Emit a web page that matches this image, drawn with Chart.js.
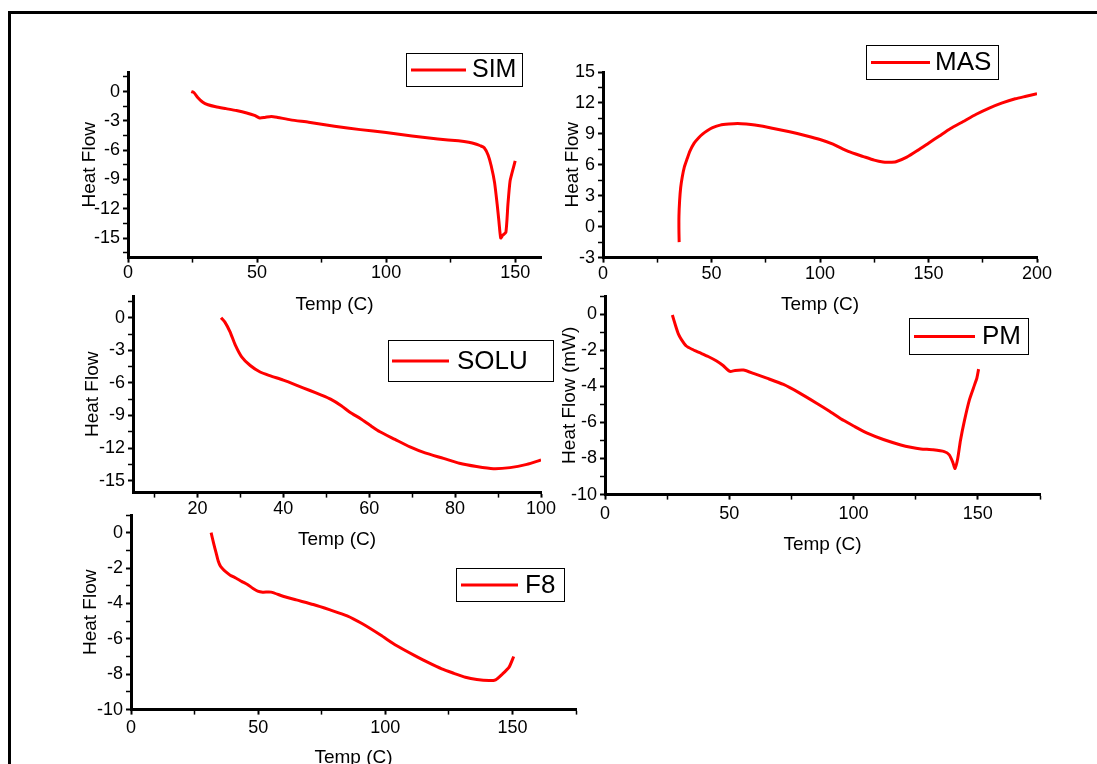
<!DOCTYPE html>
<html>
<head>
<meta charset="utf-8">
<script src="https://cdn.jsdelivr.net/npm/chart.js@4.4.0/dist/chart.umd.min.js"></script>
<style>
  html, body { margin: 0; padding: 0; background: #fff; }
  body { position: relative; width: 1097px; height: 764px; overflow: hidden; }
  #frame { position: absolute; left: 8px; top: 11px; width: 1200px; height: 900px; border: 3px solid #000; box-sizing: border-box; }
  canvas { position: absolute; }
</style>
</head>
<body>
<div id="frame"></div>
<canvas id="sim"></canvas>
<canvas id="mas"></canvas>
<canvas id="solu"></canvas>
<canvas id="pm"></canvas>
<canvas id="f8"></canvas>
<script>
// Données (Temp en C, Heat Flow)
const simTemp = [24.5, 25.5, 27, 29, 31, 34, 38, 42, 46, 49, 51, 53, 55.5, 58, 63, 70, 80, 90, 100, 110, 120, 128, 132, 135, 136.5, 138, 139.5, 140.7, 142, 143, 143.7, 144.4, 145.2, 146.4, 147.2, 148, 149, 150];
const simHeat = [0, -0.1, -0.6, -1.1, -1.35, -1.55, -1.75, -1.95, -2.2, -2.45, -2.7, -2.65, -2.55, -2.65, -2.9, -3.15, -3.55, -3.9, -4.2, -4.55, -4.85, -5.05, -5.2, -5.4, -5.55, -5.75, -6.5, -7.6, -9.3, -11.5, -13.3, -15.0, -14.7, -14.4, -11.5, -9.2, -8.1, -7.1];

const masTemp = [35.1, 35.0, 35.0, 35.3, 35.8, 36.5, 37.5, 38.8, 40, 42, 44, 46, 48, 50.5, 54, 58, 62, 66, 70, 78, 86, 94, 100, 106, 113, 120, 125, 129, 132, 135, 140, 145, 150, 155, 160, 166, 172, 178, 184, 190, 195, 200];
const masHeat = [-1.5, -0.5, 1.0, 2.5, 3.8, 4.8, 5.8, 6.6, 7.3, 8.1, 8.6, 9.0, 9.3, 9.6, 9.85, 9.95, 10.0, 9.95, 9.85, 9.55, 9.2, 8.8, 8.45, 8.0, 7.3, 6.8, 6.45, 6.27, 6.25, 6.3, 6.75, 7.4, 8.1, 8.8, 9.5, 10.2, 10.9, 11.5, 12.0, 12.4, 12.65, 12.9];

const soluTemp = [25.5, 26.4, 27.6, 28.8, 30.3, 32.3, 34.6, 37, 40, 43, 46.2, 49, 51, 53.5, 55.5, 58, 60.2, 62.5, 66, 69.5, 73, 77.3, 81, 85, 88.9, 92.8, 96.7, 100];
const soluHeat = [0, -0.4, -1.3, -2.5, -3.6, -4.4, -5.0, -5.35, -5.75, -6.2, -6.7, -7.15, -7.5, -8.1, -8.7, -9.3, -9.9, -10.5, -11.2, -11.9, -12.45, -12.95, -13.4, -13.7, -13.9, -13.8, -13.5, -13.1];

const pmTemp = [27.1, 28.4, 29.5, 30.7, 32.7, 35, 38.1, 41.5, 44.9, 47.5, 50.3, 52.3, 55.7, 60, 65.1, 71.8, 78, 85.3, 90, 96.1, 100, 105.5, 112, 119, 123, 127.1, 132, 136.5, 138.5, 139.9, 140.8, 141.9, 143, 144.6, 146.6, 148.6, 149.6, 150.3];
const pmHeat = [-0.05, -0.65, -1.1, -1.4, -1.77, -1.95, -2.14, -2.35, -2.6, -2.85, -3.18, -3.12, -3.1, -3.3, -3.55, -3.9, -4.35, -4.95, -5.35, -5.9, -6.2, -6.6, -6.95, -7.25, -7.38, -7.47, -7.52, -7.62, -7.8, -8.2, -8.55, -8.0, -7.0, -5.9, -4.75, -3.95, -3.55, -3.05];

const f8Temp = [31.5, 32.5, 33.5, 34.3, 35.2, 36.2, 37.2, 39, 41.2, 43.5, 45.8, 48, 49.8, 51.8, 55.1, 59.8, 65, 71.7, 78, 85, 91, 98.3, 104, 111.6, 117, 122.2, 127, 131.5, 136, 140.8, 143.4, 146, 148.7, 150.5];
const f8Heat = [0, -0.6, -1.16, -1.6, -1.9, -2.07, -2.2, -2.4, -2.56, -2.75, -2.93, -3.15, -3.3, -3.36, -3.36, -3.59, -3.8, -4.06, -4.35, -4.7, -5.15, -5.8, -6.35, -6.95, -7.35, -7.7, -7.95, -8.17, -8.3, -8.36, -8.32, -8.0, -7.6, -7.0];

const FONT = '"Liberation Sans", Arial, sans-serif';
const TITLE_SIZE = 19;
Chart.defaults.font.family = FONT;
Chart.defaults.color = '#000';

// Légende encadrée (comme dans Origin)
const boxLegend = {
    id: 'boxLegend',
    afterDraw(chart, args, opts) {
        const ctx = chart.ctx;
        const ds = chart.data.datasets[0];
        const x = opts.x - opts.ox, y = opts.y - opts.oy;
        ctx.save();
        ctx.strokeStyle = '#000';
        ctx.lineWidth = 1;
        ctx.strokeRect(x + 0.5, y + 0.5, opts.w, opts.h);
        ctx.strokeStyle = ds.borderColor;
        ctx.lineWidth = 3;
        ctx.beginPath();
        ctx.moveTo(x + opts.l0, y + opts.h / 2 + 0.5);
        ctx.lineTo(x + opts.l1, y + opts.h / 2 + 0.5);
        ctx.stroke();
        ctx.fillStyle = '#000';
        ctx.font = opts.size + 'px ' + FONT;
        ctx.textBaseline = 'middle';
        ctx.fillText(ds.label, x + opts.tx, y + opts.h / 2 + 1);
        ctx.restore();
    }
};

function isMajor(v, major) {
    return Math.abs(v / major - Math.round(v / major)) < 1e-6;
}

function axis(min, max, minor, major, title, pad, fixed, horizontal) {
    return {
        type: 'linear',
        position: horizontal ? 'bottom' : 'left',
        min: min,
        max: max,
        afterFit: s => { if (horizontal) s.height = fixed; else s.width = fixed; },
        border: { display: true, color: '#000', width: 3 },
        grid: {
            display: true,
            drawOnChartArea: false,
            drawTicks: true,
            tickLength: 5,
            color: '#000',
            tickWidth: c => isMajor(c.tick.value, major) ? 2 : 1.5
        },
        ticks: {
            stepSize: minor,
            includeBounds: false,
            autoSkip: false,
            maxRotation: 0,
            padding: pad,
            color: '#000',
            font: { size: 18 },
            callback: v => isMajor(v, major) ? String(Math.round(v)) : ''
        },
        title: {
            display: true,
            text: title,
            color: '#000',
            padding: 0,
            font: { size: TITLE_SIZE, lineHeight: 1.2 }
        }
    };
}

function panel(id, label, temps, heats, g, xa, ya, leg) {
    const lh = TITLE_SIZE * 1.2;
    const cx = Math.round(g.yTitleX - lh / 2);
    const cy = g.T - 30;
    const cw = g.R + 25 - cx;
    const hx = g.xTitleY + lh / 2 - g.B;
    const ch = Math.round(g.B + hx - cy);
    const wy = g.L - cx;

    const canvas = document.getElementById(id);
    canvas.width = cw;
    canvas.height = ch;
    canvas.style.left = cx + 'px';
    canvas.style.top = cy + 'px';
    canvas.style.width = cw + 'px';
    canvas.style.height = ch + 'px';

    leg.ox = cx;
    leg.oy = cy;

    new Chart(canvas, {
        type: 'scatter',
        data: {
            datasets: [{
                label: label,
                data: temps.map((t, i) => ({ x: t, y: heats[i] })),
                showLine: true,
                borderColor: '#ff0000',
                backgroundColor: '#ff0000',
                borderWidth: 3,
                pointRadius: 0,
                tension: 0.2
            }]
        },
        options: {
            responsive: false,
            animation: false,
            devicePixelRatio: 1,
            layout: { padding: { left: 0, top: 30, right: 25, bottom: 0 } },
            plugins: {
                legend: { display: false },
                tooltip: { enabled: false },
                boxLegend: leg
            },
            scales: {
                x: axis(xa[0], xa[1], xa[2], xa[3], 'Temp (C)', xa[4], hx, true),
                y: axis(ya[0], ya[1], ya[2], ya[3], ya[4], 3, wy, false)
            }
        },
        plugins: [boxLegend]
    });
}

panel('sim', 'SIM', simTemp, simHeat,
    { L: 128, T: 72, R: 541, B: 258, yTitleX: 89, xTitleY: 305 },
    [0, 160, 25, 50, 0], [-17, 2, 1.5, 3, 'Heat Flow'],
    { x: 406, y: 53, w: 116, h: 33, l0: 5, l1: 60, tx: 66, size: 25 });

panel('mas', 'MAS', masTemp, masHeat,
    { L: 603, T: 72, R: 1037, B: 258, yTitleX: 572, xTitleY: 305 },
    [0, 200, 25, 50, 1], [-3, 15, 1.5, 3, 'Heat Flow'],
    { x: 866, y: 45, w: 132, h: 34, l0: 5, l1: 64, tx: 69, size: 26 });

panel('solu', 'SOLU', soluTemp, soluHeat,
    { L: 133, T: 296, R: 541, B: 493, yTitleX: 92, xTitleY: 540 },
    [5, 100, 10, 20, 1], [-16.1, 2, 1.5, 3, 'Heat Flow'],
    { x: 388, y: 340, w: 165, h: 41, l0: 4, l1: 61, tx: 69, size: 26 });

panel('pm', 'PM', pmTemp, pmHeat,
    { L: 605, T: 296, R: 1040, B: 495, yTitleX: 569, xTitleY: 545 },
    [0, 175, 25, 50, 4], [-10, 1, 1, 2, 'Heat Flow (mW)'],
    { x: 909, y: 318, w: 119, h: 36, l0: 5, l1: 66, tx: 73, size: 26 });

panel('f8', 'F8', f8Temp, f8Heat,
    { L: 131, T: 515, R: 576, B: 710, yTitleX: 90, xTitleY: 758 },
    [0, 175, 25, 50, 3], [-10, 1, 1, 2, 'Heat Flow'],
    { x: 456, y: 568, w: 108, h: 33, l0: 5, l1: 62, tx: 69, size: 26 });
</script>
</body>
</html>
